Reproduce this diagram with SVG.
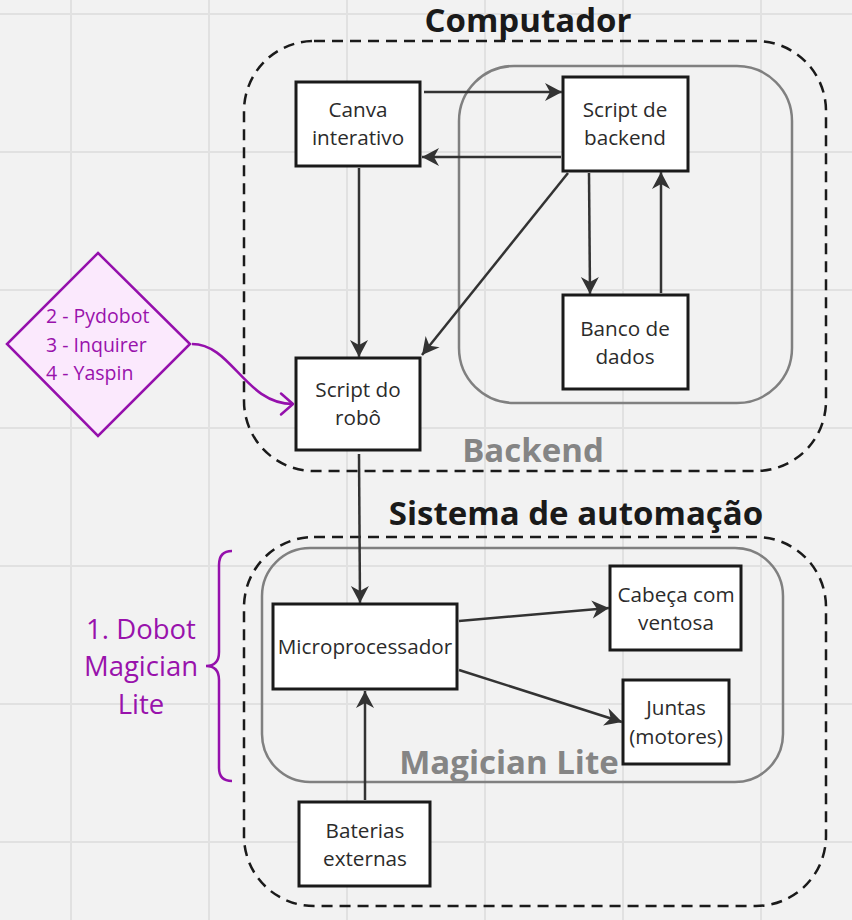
<svg xmlns="http://www.w3.org/2000/svg" width="852" height="920" viewBox="0 0 852 920">
<defs>
<marker id="ah" markerUnits="userSpaceOnUse" markerWidth="22" markerHeight="22" viewBox="0 0 22 22" refX="19" refY="11" orient="auto">
<path d="M2,2 L19,11 L2,20 L7,11 Z" fill="#333333"/>
</marker>
<marker id="chev" markerUnits="userSpaceOnUse" markerWidth="20" markerHeight="26" viewBox="0 0 20 26" refX="16" refY="13" orient="auto">
<path d="M4,2.5 L16,13 L4,23.5" fill="none" stroke="#9510ac" stroke-width="2.5" stroke-linecap="round" stroke-linejoin="round"/>
</marker>
</defs>
<style>
.grid line{stroke:#e1e1e1;stroke-width:2}
.dash{fill:none;stroke:#1a1a1a;stroke-width:2.5;stroke-dasharray:11 7}
.grp{fill:none;stroke:#808080;stroke-width:2.5}
.box{fill:#ffffff;stroke:#1a1a1a;stroke-width:3}
.t{font-family:"Open Sans","Noto Sans",sans-serif;font-size:20.7px;fill:#2b2b2b;text-anchor:middle}
.title{font-family:"Open Sans","Noto Sans",sans-serif;font-weight:bold;font-size:33px;fill:#1a1a1a;text-anchor:middle}
.gtitle{font-family:"Open Sans","Noto Sans",sans-serif;font-weight:bold;font-size:33px;fill:#858585;text-anchor:middle}
.pur{font-family:"Open Sans","Noto Sans",sans-serif;fill:#9912ac}
.conn line,.conn path{stroke:#333333;stroke-width:2.5;fill:none;marker-end:url(#ah)}
</style>
<rect width="852" height="920" fill="#f2f2f2"/>
<g class="grid">
<line x1="71" y1="0" x2="71" y2="920"/><line x1="209" y1="0" x2="209" y2="920"/><line x1="347" y1="0" x2="347" y2="920"/><line x1="485" y1="0" x2="485" y2="920"/><line x1="623" y1="0" x2="623" y2="920"/><line x1="761" y1="0" x2="761" y2="920"/>
<line x1="0" y1="14" x2="852" y2="14"/><line x1="0" y1="152" x2="852" y2="152"/><line x1="0" y1="290" x2="852" y2="290"/><line x1="0" y1="428" x2="852" y2="428"/><line x1="0" y1="566" x2="852" y2="566"/><line x1="0" y1="704" x2="852" y2="704"/><line x1="0" y1="842" x2="852" y2="842"/>
</g>
<g id="computador">
<rect class="dash" x="244" y="41" width="582" height="430" rx="70"/>
<text class="title" x="528" y="32">Computador</text>
</g>
<g id="backend">
<rect class="grp" x="459" y="66" width="333" height="337" rx="55"/>
<text class="gtitle" x="533" y="462">Backend</text>
</g>
<g id="sistema">
<rect class="dash" x="244" y="537" width="582" height="369" rx="70"/>
<text class="title" x="576" y="525">Sistema de automação</text>
</g>
<g id="magician">
<rect class="grp" x="262" y="548" width="521" height="234" rx="48"/>
<text class="gtitle" x="509" y="774">Magician Lite</text>
</g>
<g id="canva">
<rect class="box" x="296" y="82" width="124" height="84"/>
<text class="t" x="358" y="117">Canva</text>
<text class="t" x="358" y="145">interativo</text>
</g>
<g id="script-backend">
<rect class="box" x="563" y="77" width="125" height="94"/>
<text class="t" x="625" y="117">Script de</text>
<text class="t" x="625" y="145">backend</text>
</g>
<g id="banco">
<rect class="box" x="563" y="295" width="125" height="94"/>
<text class="t" x="625" y="336">Banco de</text>
<text class="t" x="625" y="364">dados</text>
</g>
<g id="script-robo">
<rect class="box" x="296" y="358" width="124" height="92"/>
<text class="t" x="358" y="397">Script do</text>
<text class="t" x="358" y="425">robô</text>
</g>
<g id="micro">
<rect class="box" x="273" y="604" width="184" height="85"/>
<text class="t" x="365" y="654">Microprocessador</text>
</g>
<g id="cabeca">
<rect class="box" x="610" y="566" width="131" height="84"/>
<text class="t" x="676" y="602">Cabeça com</text>
<text class="t" x="676" y="630">ventosa</text>
</g>
<g id="juntas">
<rect class="box" x="623" y="680" width="106" height="84"/>
<text class="t" x="676" y="715">Juntas</text>
<text class="t" x="676" y="744">(motores)</text>
</g>
<g id="baterias">
<rect class="box" x="299" y="802" width="131" height="84"/>
<text class="t" x="365" y="838">Baterias</text>
<text class="t" x="365" y="866">externas</text>
</g>
<g id="libs">
<path d="M98,253 L190,344 L98,436 L7,344 Z" fill="#fbe9fd" stroke="#9510ac" stroke-width="2.5"/>
<text class="pur" font-size="19.5" x="46" y="323">2 - Pydobot</text>
<text class="pur" font-size="19.5" x="46" y="352">3 - Inquirer</text>
<text class="pur" font-size="19.5" x="46" y="380">4 - Yaspin</text>
</g>
<g id="dobot">
<path d="M232,551 Q219,551 219,565 L219,652 Q219,666 206,666 Q219,666 219,680 L219,768 Q219,781 232,781" fill="none" stroke="#9510ac" stroke-width="2.5"/>
<text class="pur" font-size="27.5" text-anchor="middle" x="141" y="639">1. Dobot</text>
<text class="pur" font-size="27.5" text-anchor="middle" x="141" y="676">Magician</text>
<text class="pur" font-size="27.5" text-anchor="middle" x="141" y="714">Lite</text>
</g>
<g id="connectors" class="conn">
<line x1="424" y1="92" x2="562" y2="92"/>
<line x1="561" y1="157" x2="422" y2="157"/>
<line x1="359" y1="168" x2="359" y2="357"/>
<line x1="568" y1="173" x2="422" y2="355"/>
<line x1="589" y1="173" x2="590" y2="294"/>
<line x1="661" y1="293" x2="661" y2="172"/>
<line x1="359" y1="454" x2="360" y2="603"/>
<line x1="459" y1="621" x2="609" y2="608"/>
<line x1="459" y1="670" x2="622" y2="722"/>
<line x1="365" y1="800" x2="365" y2="691"/>
<path d="M192,344 C232,344 245,404 293,404" style="stroke:#9510ac;marker-end:url(#chev)"/>
</g>
</svg>
